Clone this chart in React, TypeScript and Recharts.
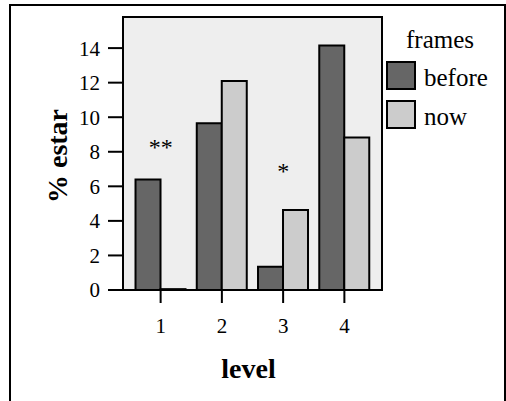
import React from 'react';
import { BarChart, Bar, XAxis, YAxis, Legend, ReferenceDot, usePlotArea } from 'recharts';

// values
const levels = ['1', '2', '3', '4'];
const before = [6.4, 9.65, 1.35, 14.15];
const now = [0.05, 12.1, 4.63, 8.83];
const seriesKeys = ['before', 'now'];
const seriesColors = ['#666666', '#cccccc'];
const yTicks = [0, 2, 4, 6, 8, 10, 12, 14];
const yMax = 15.8;
const marks = ['**', '', '*', ''];
const markHeights = [8.3, 0, 6.9, 0];

const data = levels.map((level, i) => ({ level, before: before[i], now: now[i] }));
const notes = levels
  .map((level, i) => ({ level, mark: marks[i], y: markHeights[i] }))
  .filter((n) => n.mark);

const serif = '"Liberation Serif", "Times New Roman", serif';

const PlotFrame = () => {
  const area = usePlotArea();
  if (!area) return null;
  return (
    <rect
      x={area.x}
      y={area.y}
      width={area.width}
      height={area.height}
      fill="#eeeeee"
      stroke="#000"
      strokeWidth={2}
    />
  );
};

const LegendBox = () => (
  <div style={{ fontFamily: serif, fontSize: 25, color: '#000' }}>
    <div style={{ textAlign: 'center', lineHeight: '29px', height: 31 }}>frames</div>
    {seriesKeys.map((name, i) => (
      <div key={name} style={{ display: 'flex', alignItems: 'center', height: 39 }}>
        <div
          style={{
            width: 26,
            height: 25,
            border: '2px solid #000',
            background: seriesColors[i],
          }}
        />
        <span style={{ marginLeft: 8, marginTop: 4, lineHeight: '29px' }}>{name}</span>
      </div>
    ))}
  </div>
);

const YTitle = ({ viewBox }: any) => (
  <text
    x={viewBox.x + 67}
    y={viewBox.y + viewBox.height / 2 + 2.5}
    transform={`rotate(-90, ${viewBox.x + 67}, ${viewBox.y + viewBox.height / 2 + 2.5})`}
    textAnchor="middle"
    fontFamily={serif}
    fontWeight="bold"
    fontSize={28}
    fill="#000"
  >
    % estar
  </text>
);

const XTitle = ({ viewBox }: any) => (
  <text
    x={viewBox.x + viewBox.width / 2 - 4}
    y={viewBox.y + 88}
    textAnchor="middle"
    fontFamily={serif}
    fontWeight="bold"
    fontSize={28}
    fill="#000"
  >
    level
  </text>
);

export default function App() {
  return (
    <div
      style={{
        position: 'absolute',
        left: 0,
        top: 0,
        width: 506,
        height: 401,
        overflow: 'hidden',
        background: '#fff',
      }}
    >
      <div
        style={{
          position: 'absolute',
          left: 9,
          top: 4,
          width: 497,
          height: 430,
          boxSizing: 'border-box',
          borderTop: '2px solid #000',
          borderLeft: '2px solid #000',
          borderRight: '2px solid #000',
        }}
      />
      <div style={{ position: 'absolute', left: 0, top: 0 }}>
        <BarChart
          width={506}
          height={401}
          data={data}
          margin={{ top: 17, right: 124, bottom: 51, left: 0 }}
          barCategoryGap="9%"
          barGap={0}
        >
          <PlotFrame />
          <XAxis
            dataKey="level"
            height={60}
            padding={{ left: 7, right: 7 }}
            tickSize={13}
            tickMargin={15}
            axisLine={{ stroke: '#000', strokeWidth: 2 }}
            tickLine={{ stroke: '#000', strokeWidth: 2 }}
            tick={{ fill: '#000', fontSize: 21, fontFamily: serif }}
            interval={0}
            label={<XTitle />}
          />
          <YAxis
            width={123}
            domain={[0, yMax]}
            ticks={yTicks}
            interval={0}
            tickSize={15}
            tickMargin={8}
            axisLine={false}
            tickLine={{ stroke: '#000', strokeWidth: 2 }}
            tick={{ fill: '#000', fontSize: 21, fontFamily: serif }}
            label={<YTitle />}
          />
          <Legend
            layout="horizontal"
            verticalAlign="middle"
            align="center"
            content={<LegendBox />}
            wrapperStyle={{ left: 386, top: 25, width: 108, height: 110 }}
          />
          {seriesKeys.map((key, i) => (
            <Bar
              key={key}
              dataKey={key}
              fill={seriesColors[i]}
              stroke="#000"
              strokeWidth={2}
              isAnimationActive={false}
            />
          ))}
          {notes.map((n) => (
            <ReferenceDot
              key={n.level}
              x={n.level}
              y={n.y}
              r={0}
              fill="none"
              stroke="none"
              label={{ value: n.mark, position: 'center', fontSize: 24, fill: '#000', fontFamily: serif }}
            />
          ))}
        </BarChart>
      </div>
    </div>
  );
}
